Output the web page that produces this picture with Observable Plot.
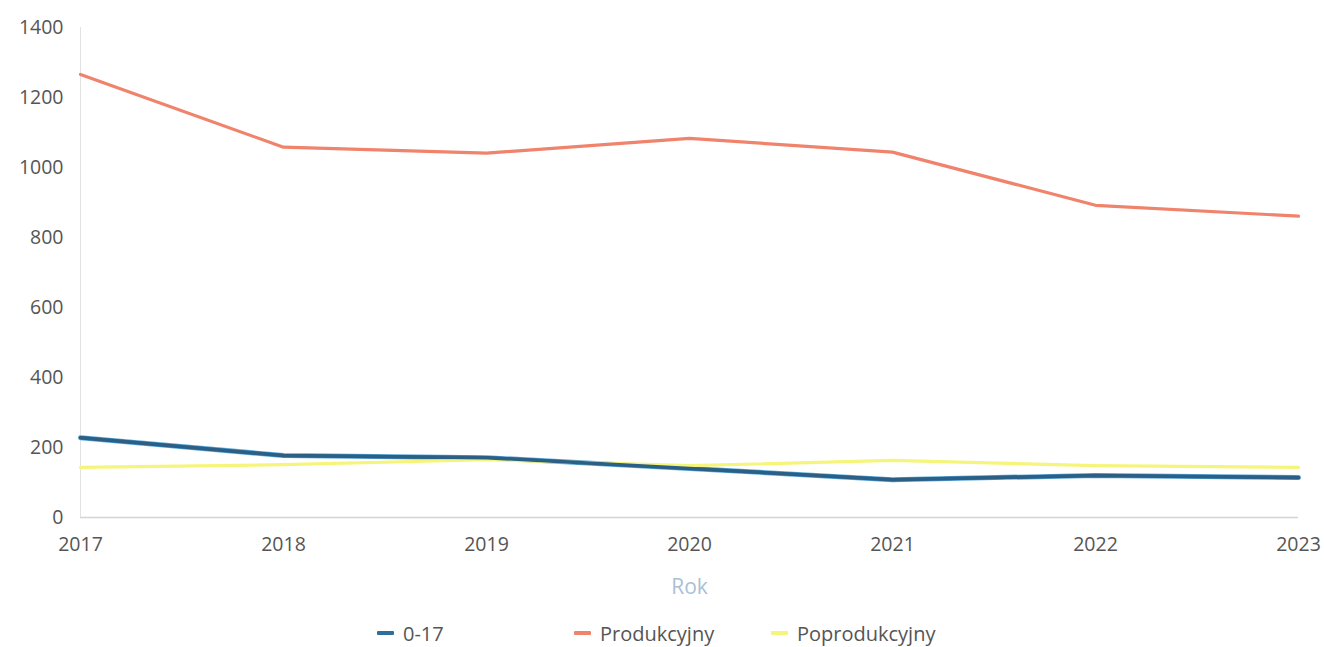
<!DOCTYPE html>
<html><head><meta charset="utf-8">
<script src="https://cdn.jsdelivr.net/npm/d3@7"></script>
<script src="https://cdn.jsdelivr.net/npm/@observablehq/plot@0.6"></script>
<style>
body{margin:0;background:#fff;font-family:"Open Sans",sans-serif;}
#legend{position:absolute;top:619px;left:0;width:1324px;height:28px;font-size:20px;color:#555;}
.item{position:absolute;top:0;display:flex;align-items:center;height:28px;}
.sw{width:17px;height:4px;margin-right:9px;border-radius:1px;}
</style></head>
<body>
<div id="chart"></div>
<div id="legend"></div>
<script>
const years = [2017, 2018, 2019, 2020, 2021, 2022, 2023];
const seriesNames = ["0-17", "Produkcyjny", "Poprodukcyjny"];
const v017 = [228, 177, 171, 140, 108, 120, 114];
const vProd = [1266, 1058, 1041, 1083, 1044, 892, 861];
const vPoprod = [143, 151, 165, 148, 163, 148, 143];
const yTicks = [0, 200, 400, 600, 800, 1000, 1200, 1400];
const colors = ["#2f6f9c", "#f0836c", "#f5f57c"];

const valuesBySeries = [v017, vProd, vPoprod];
const data = [];
seriesNames.forEach((s, i) => years.forEach((y, j) => data.push({series: s, year: y, value: valuesBySeries[i][j]})));

const plot = Plot.plot({
  width: 1324, height: 610,
  marginLeft: 80, marginRight: 26, marginTop: 27, marginBottom: 93,
  style: {fontFamily: "Open Sans, sans-serif", fontSize: "19.5px", color: "#555", background: "#fff"},
  x: {domain: [2017, 2023], ticks: years, tickFormat: d => String(d), tickSize: 0, tickPadding: 20, label: "Rok", labelAnchor: "center", labelArrow: "none", labelOffset: 76},
  y: {domain: [0, 1400], ticks: yTicks, tickFormat: d => String(d), tickSize: 0, tickPadding: 17, label: null},
  color: {domain: seriesNames, range: colors},
  marks: [
    Plot.ruleY([0], {stroke: "#d4d4d4", strokeWidth: 1.5}),
    Plot.ruleX([2017], {stroke: "#e2e2e2", strokeWidth: 1}),
    Plot.line(data.filter(d => d.series === "0-17"), {x: "year", y: "value", stroke: "#5aa6d6", strokeWidth: 5}),
    Plot.line(data, {x: "year", y: "value", stroke: "series", z: "series", strokeWidth: 3.2}),
    Plot.line(data.filter(d => d.series === "0-17"), {x: "year", y: "value", stroke: "#2b5f85", strokeWidth: 3.5})
  ]
});
plot.querySelectorAll("[aria-label='x-axis label'] text").forEach(t => { t.setAttribute("fill", "#a9c0d6"); t.style.fontSize = "21px"; });
document.getElementById("chart").appendChild(plot);

const legend = document.getElementById("legend");
const lx = [377, 574, 771];
seriesNames.forEach((s, i) => {
  const it = document.createElement("div");
  it.className = "item"; it.style.left = lx[i] + "px";
  const sw = document.createElement("div"); sw.className = "sw"; sw.style.background = colors[i];
  const tx = document.createElement("span"); tx.textContent = s;
  it.appendChild(sw); it.appendChild(tx); legend.appendChild(it);
});
</script>
</body></html>
